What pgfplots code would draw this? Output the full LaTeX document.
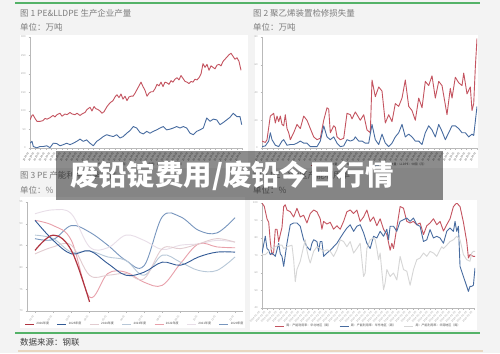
\documentclass[border=0pt]{standalone}
\usepackage{pgfplots}
\pgfplotsset{compat=1.18}
\usepackage{fontspec}
\setmainfont{Noto Sans CJK SC}
\definecolor{bg}{RGB}{243,243,243}
\definecolor{pred}{RGB}{196,84,96}
\definecolor{pblue}{RGB}{72,108,160}
\definecolor{pgrn}{RGB}{84,178,104}
\definecolor{ttl}{RGB}{125,125,125}
\definecolor{c26}{RGB}{176,52,64}
\definecolor{c25}{RGB}{50,90,150}
\definecolor{c24}{RGB}{226,204,208}
\definecolor{c23}{RGB}{184,200,216}
\definecolor{c22}{RGB}{232,160,170}
\definecolor{c21}{RGB}{232,222,232}
\definecolor{c20}{RGB}{120,150,190}
\definecolor{lgray}{RGB}{214,214,214}
\definecolor{beige}{RGB}{232,214,192}
\pgfplotsset{panel/.style={scale only axis, anchor=south west,
  axis x line*=bottom, axis y line*=left,
  axis line style={draw=gray!55, line width=0.4bp},
  tick style={draw=gray!55, line width=0.3bp},
  major tick length=1.5bp, tick align=outside,
  ticklabel style={font=\fontsize{2.6}{2.6}\selectfont, text=gray!75},
  /pgf/number format/assume math mode=true,
  yticklabel style={xshift=0.5bp},
  every axis plot/.append style={line width=0.9bp, line join=round},
  legend style={draw=none, fill=none, font=\fontsize{3}{3}\selectfont, text=gray!60!black,
    /tikz/every even column/.append style={column sep=6bp}},
  legend image code/.code={\draw[#1,line width=0.8bp] (0bp,0bp) -- (9bp,0bp);},
}}
\begin{document}
\begin{tikzpicture}[x=1bp,y=1bp]
\fill[bg] (0,0) rectangle (500,353);
\useasboundingbox (0,0) rectangle (500,353);
% white panel backgrounds
\fill[white] (20,185) rectangle (248,318);
\fill[white] (255,185) rectangle (478,318);
\fill[white] (20,25) rectangle (245,156);
\fill[white] (250,23) rectangle (477,153);
% decorative rules
\draw[pgrn, line width=1.3bp] (15,350) -- (480,350);
\draw[pgrn, line width=1.3bp] (15,20) -- (480,20);
\draw[beige, line width=2bp] (18,2) -- (483,2);
% titles
\node[anchor=west, text=ttl, font=\fontsize{8.5}{10}\selectfont, inner sep=0] at (20,340) {图 1 PE\&LLDPE 生产企业产量};
\node[anchor=west, text=ttl, font=\fontsize{8.5}{10}\selectfont, inner sep=0] at (20,326) {单位：万吨};
\node[anchor=west, text=ttl, font=\fontsize{8.5}{10}\selectfont, inner sep=0] at (253,340) {图 2 聚乙烯装置检修损失量};
\node[anchor=west, text=ttl, font=\fontsize{8.5}{10}\selectfont, inner sep=0] at (253,326) {单位：万吨};
\node[anchor=west, text=ttl, font=\fontsize{8.5}{10}\selectfont, inner sep=0] at (20,178) {图 3 PE 产能利用率季节性};
\node[anchor=west, text=ttl, font=\fontsize{8.5}{10}\selectfont, inner sep=0] at (20,163) {单位：\%};
\node[anchor=west, text=ttl, font=\fontsize{8.5}{10}\selectfont, inner sep=0] at (253,178) {图 4 PE 分地区产能利用率};
\node[anchor=west, text=ttl, font=\fontsize{8.5}{10}\selectfont, inner sep=0] at (253,163) {单位：\%};
\node[anchor=west, text=black!75, font=\fontsize{8.5}{10}\selectfont, inner sep=0] at (20,11) {数据来源：钢联};

% ---------- Panel 1 ----------
\begin{axis}[panel, at={(30bp,205bp)}, width=212bp, height=111bp,
  xmin=0, xmax=212, ymin=0, ymax=300, ytick={0,50,...,300},
  xtick={0,5.3,...,212}, xticklabel={2019-01},
  x tick label style={rotate=60, anchor=east, text=black!70},
  legend columns=2, legend style={at={(0.5,-0.153)}, anchor=center}]
\addplot[pred] coordinates {(0,76)(2,88)(3,90)(5,80)(7,72)(10,72)(13,74)(15,80)(17,78)(20,82)(23,88)(25,84)(27,90)(30,94)(32,86)(35,92)(37,90)(40,96)(42,92)(45,90)(47,94)(50,88)(52,92)(55,96)(57,104)(60,110)(62,100)(64,112)(66,106)(68,104)(70,100)(72,94)(74,98)(77,112)(80,122)(83,128)(85,138)(87,144)(89,136)(91,146)(93,132)(95,140)(97,128)(99,138)(101,140)(103,140)(105,148)(107,158)(109,168)(111,178)(113,166)(115,156)(117,140)(119,148)(121,152)(123,152)(125,160)(127,172)(129,168)(131,178)(133,166)(135,178)(137,176)(139,172)(141,182)(143,178)(145,186)(147,190)(149,184)(151,196)(153,188)(155,180)(157,178)(159,174)(161,180)(163,178)(165,186)(167,184)(169,190)(171,200)(173,228)(175,218)(177,226)(179,210)(181,222)(183,218)(185,214)(187,224)(189,226)(191,222)(193,234)(195,240)(197,246)(199,252)(201,256)(203,248)(205,240)(207,244)(209,234)(211,210)};
\addlegendentry{产量：PE：中国（月）}
\addplot[pblue] coordinates {(0,13)(2,18)(3.3,4)(6.7,0.5)(10,4)(13.3,4)(16.7,6)(20,1)(23.3,13)(26.7,12)(30,6)(33.3,9)(36.7,13)(40,9)(43.3,13)(46.7,18)(50,24)(53.3,18)(56.7,22)(60,13)(63.3,6)(66.7,18)(70,24)(73.3,31)(76.7,36)(80,33)(83.3,31)(86.7,36)(90,27)(93.3,31)(96.7,40)(100,47)(103.3,58)(106.7,54)(110,42)(113.3,38)(116.7,45)(120,40)(123.3,45)(126.7,49)(130,54)(133.3,58)(136.7,49)(140,51)(143.3,54)(146.7,58)(150,54)(153.3,58)(156.7,54)(160,40)(163.3,36)(166.7,45)(170,49)(173.3,54)(176.7,81)(180,72)(183.3,78)(186.7,76)(190,63)(193.3,69)(196.7,76)(200,83)(203.3,94)(206.7,85)(210,85)(211.7,63)};
\addlegendentry{产量：LLDPE：中国（月）}
\end{axis}

% ---------- Panel 2 ----------
\begin{axis}[panel, at={(262bp,205bp)}, width=215bp, height=111bp,
  xmin=0, xmax=215, ymin=0, ymax=80, ytick={0,20,...,80},
  xtick={0,5.375,...,215}, xticklabel={2019-01},
  x tick label style={rotate=60, anchor=east, text=black!70},
  legend columns=2, legend style={at={(0.5,-0.153)}, anchor=center}]
\addplot[pred] coordinates {(0,5)(3.3,4)(5,6)(8.3,23)(11.7,25)(13.3,18)(15,23)(16.7,19)(18.3,23)(20,17)(21.7,16)(23.3,24)(25,14)(26.7,11)(28.3,6)(31.7,11)(35,17)(38.3,14)(41.7,23)(45,20)(48.3,14)(51.7,8)(55,6)(58.3,7)(61.7,20)(65,29)(66.7,28)(68.3,11)(71.7,16)(73.3,15)(75,8)(78.3,6)(81.7,7)(85,25)(88.3,24)(90,21)(93.3,26)(95,24)(98.3,20)(101.7,24)(105,13)(106.7,12)(108.3,11)(110,49)(113.3,37)(116.7,44)(120,41)(123.3,18)(126.7,24)(130,19)(133.3,32)(136.7,30)(140,36)(143.3,49)(146.7,30)(150,27)(153.3,20)(156.7,36)(160,29)(163.3,48)(166.7,45)(170,52)(173.3,36)(176.7,48)(180,45)(185,24)(188.3,43)(190,36)(193.3,51)(196.7,47)(200,45)(201.7,54)(205,39)(208.3,44)(210,27)(211.7,32)(213.3,58)(215,79)};
\addlegendentry{检修损失量：PE：中国（月）}
\addplot[pblue] coordinates {(0,1)(3.3,1.5)(6.7,5)(8.3,11)(10,6)(13.3,2)(16.7,1)(20,5)(21.7,6)(25,2)(28.3,2.5)(31.7,2.5)(35,3.5)(38.3,5)(41.7,3.5)(45,3.5)(48.3,1)(51.7,1)(55,1)(58.3,5)(61.7,16)(65,8)(68.3,6)(71.7,8)(75,3.5)(78.3,1)(81.7,1.5)(85,6)(88.3,5)(91.7,6)(93.3,8)(96.7,5)(100,5)(103.3,3.5)(106.7,3.5)(110,17)(113.3,6)(116.7,2.5)(120,10)(123.3,3.5)(126.7,1)(130,3.5)(133.3,8)(136.7,11)(140,17)(143.3,8)(146.7,10)(150,8)(153.3,5)(156.7,5)(160,2.5)(163.3,11)(166.7,16)(170,13)(173.3,8)(176.7,17)(180,12)(183.3,6)(186.7,11)(190,16)(193.3,16)(196.7,14)(200,11)(203.3,11)(206.7,8)(210,10)(211.7,9)(215,30)};
\addlegendentry{检修损失量：LLDPE：中国（月）}
\end{axis}

% ---------- Panel 3 ----------
\begin{axis}[panel, at={(27bp,42bp)}, width=216bp, height=109bp,
  xmin=0.56, xmax=12.44, ymin=70, ymax=95, ytick={70,75,...,95},
  xtick={1,...,12}, xticklabels={01-01,02-01,03-01,04-01,05-01,06-01,07-01,08-01,09-01,10-01,11-01,12-01},
  x tick label style={rotate=60, anchor=east},
  legend columns=7, reverse legend, legend style={at={(0.5,-0.119)}, anchor=center},
  every axis plot/.append style={smooth, tension=0.6}]
\addplot[c20] coordinates {(1,86.6)(2,86.4)(3,89.6)(4,88.1)(5,85.1)(6,81.6)(7,80.4)(8,91.6)(9,91.6)(10,88.5)(11,87.9)(12,91.4)};
\addlegendentry{2020年度}
\addplot[c21] coordinates {(1,92.3)(2,93.2)(3,92.3)(4,84.7)(5,84.5)(6,87.4)(7,86.2)(8,84.1)(9,85.1)(10,85.4)(11,86.2)(12,85.8)};
\addlegendentry{2021年度}
\addplot[c22] coordinates {(1,90.8)(2,89.6)(3,86.2)(4,73.2)(5,78.6)(6,78.9)(7,76.6)(8,75.9)(9,80.9)(10,85.4)(11,84.7)(12,84.5)};
\addlegendentry{2022年度}
\addplot[c23] coordinates {(1,87.4)(2,86.6)(3,83.5)(4,83.8)(5,82.4)(6,81.6)(7,78.2)(8,82.8)(9,81.2)(10,79.3)(11,79.3)(12,82.4)};
\addlegendentry{2023年度}
\addplot[c24] coordinates {(1,83.1)(2,84.7)(3,85.1)(4,78.2)(5,78.2)(6,78.6)(7,77.4)(8,84.3)(9,84.3)(10,85.4)(11,86.6)(12,85.8)};
\addlegendentry{2024年度}
\addplot[c25] coordinates {(1,90.8)(2,86.2)(3,83.1)(4,83.8)(5,80.9)(6,78.2)(7,78.9)(8,81.2)(9,80.5)(10,82.4)(11,83.5)(12,83.5)};
\addlegendentry{2025年度}
\addplot[c26, line width=1.2bp] coordinates {(1,83.9)(2,87.4)(3,83.9)(4,72.1)};
\addlegendentry{2026年度}
\end{axis}

% ---------- Panel 4 ----------
\begin{axis}[panel, at={(262bp,45bp)}, width=213bp, height=105bp,
  xmin=0, xmax=213.3, ymin=40, ymax=100, ytick={40,50,...,100},
  xtick={0,5.6,...,213}, xticklabel={2024-01-05},
  x tick label style={rotate=45, anchor=east},
  legend columns=3, legend style={at={(0.5,-0.171)}, anchor=center}]
\addplot[pred] coordinates {(0,100)(2.3,98)(5,91)(6.7,89)(8.3,78)(10,70.5)(11.7,72)(13.3,85)(15,85)(16.7,78)(18.3,82)(20,86)(21.7,98)(23.3,99)(25,96)(28.3,95)(31.7,92)(35,97)(38.3,92)(41.7,93)(45,88.6)(48.3,94)(51.7,96)(55,95)(58.3,91)(60,85)(61.7,89.5)(65,88)(68.3,89)(71.7,85)(75,87)(78.3,85)(81.7,89.5)(85,95)(88.3,96)(91.7,94)(95,96)(98.3,89.5)(101.7,92)(105,96)(108.3,89.5)(111.7,92)(115,87)(118.3,91)(121.7,85)(125,82)(128.3,73)(130,77)(131.7,74)(135,86)(138.3,98)(141.7,97)(145,89.5)(148.3,88.6)(151.7,89.5)(155,87.6)(158.3,88.6)(161.7,82)(165,87)(168.3,88.6)(171.7,91)(175,87.6)(178.3,89.5)(181.7,84)(185,87.6)(188.3,91)(191.7,98)(195,100)(198.3,98)(201.7,89)(205,78)(206.7,68.6)(208.3,70.5)(211.7,69.5)(213.3,69.5)};
\addlegendentry{周：产能利用率：华北地区（周）}
\addplot[pblue] coordinates {(0,71.4)(3.3,81)(5,74)(6.7,73)(8.3,70.5)(10,71.4)(13.3,69.5)(16.7,77)(18.3,71)(20,69.5)(21.7,63.8)(25,77)(28.3,87.6)(31.7,88.6)(35,88.6)(38.3,86.7)(41.7,79)(45,75)(48.3,73)(50,77)(51.7,79)(55,78)(56.7,72.4)(58.3,78)(60,78)(61.7,69.5)(63.3,70.5)(65,71.4)(68.3,73)(71.7,75)(75,77)(78.3,80)(81.7,83)(85,85.7)(88.3,87.6)(91.7,83.8)(95,86.7)(98.3,87.6)(101.7,83)(105,77)(108.3,74)(111.7,81)(115,80)(118.3,83.8)(121.7,81)(125,85)(126.7,79)(128.3,86.7)(131.7,86.7)(135,83.8)(138.3,89.5)(141.7,90.5)(145,91.4)(148.3,89.5)(151.7,91.4)(155,87.6)(158.3,86.7)(161.7,78)(165,79)(168.3,84.8)(171.7,80)(175,81)(178.3,80)(181.7,77)(185,83.8)(188.3,85.7)(191.7,83.8)(193.3,89.5)(195,83.8)(196.7,86.7)(198.3,63.8)(201.7,58)(205,52.4)(206.7,49.5)(208.3,52.4)(210,52.4)(211.7,53)(213.3,62.9)};
\addlegendentry{周：产能利用率：华东地区（周）}
\addplot[lgray] coordinates {(0,70.5)(3.3,70.5)(6.7,72.4)(10,74)(13.3,75)(16.7,75.9)(20,75.9)(21.7,74)(25,75)(30,75.9)(31.7,67.6)(33.3,55)(35,62)(38.3,66.7)(41.7,75.2)(43.3,79)(45,73)(46.7,68.6)(48.3,65.7)(51.7,72.4)(55,75)(58.3,74)(61.7,72.4)(65,73.3)(68.3,72.4)(71.7,69.5)(75,73.3)(78.3,79)(81.7,78)(85,75)(88.3,78)(91.7,71.4)(95,74)(98.3,77)(101.7,58)(103.3,60)(105,74)(108.3,79)(111.7,80)(113.3,79)(115,74)(116.7,67.6)(118.3,71.4)(121.7,50.5)(123.3,54.3)(125,62)(128.3,58)(131.7,60)(135,56)(138.3,69.5)(141.7,62)(145,61)(148.3,53)(151.7,62)(155,67.6)(158.3,68.6)(161.7,71.4)(165,69.5)(168.3,72.4)(171.7,71.4)(175,69.5)(178.3,73.3)(180,75)(181.7,74)(185,75.9)(188.3,78)(191.7,79)(195,81)(198.3,79)(201.7,70.5)(205,67.6)(208.3,66.7)(210,71.4)(211.7,72.4)(213.3,72.4)};
\addlegendentry{周：产能利用率：华南地区（周）}
\end{axis}

% ---------- banner ----------
\fill[black, opacity=0.45] (56,153) rectangle (443,202);
\node[anchor=west, text=white, font=\fontsize{28.5}{28.5}\selectfont\bfseries, inner sep=0] at (70,177) {废铅锭费用/废铅今日行情};
\end{tikzpicture}
\end{document}
